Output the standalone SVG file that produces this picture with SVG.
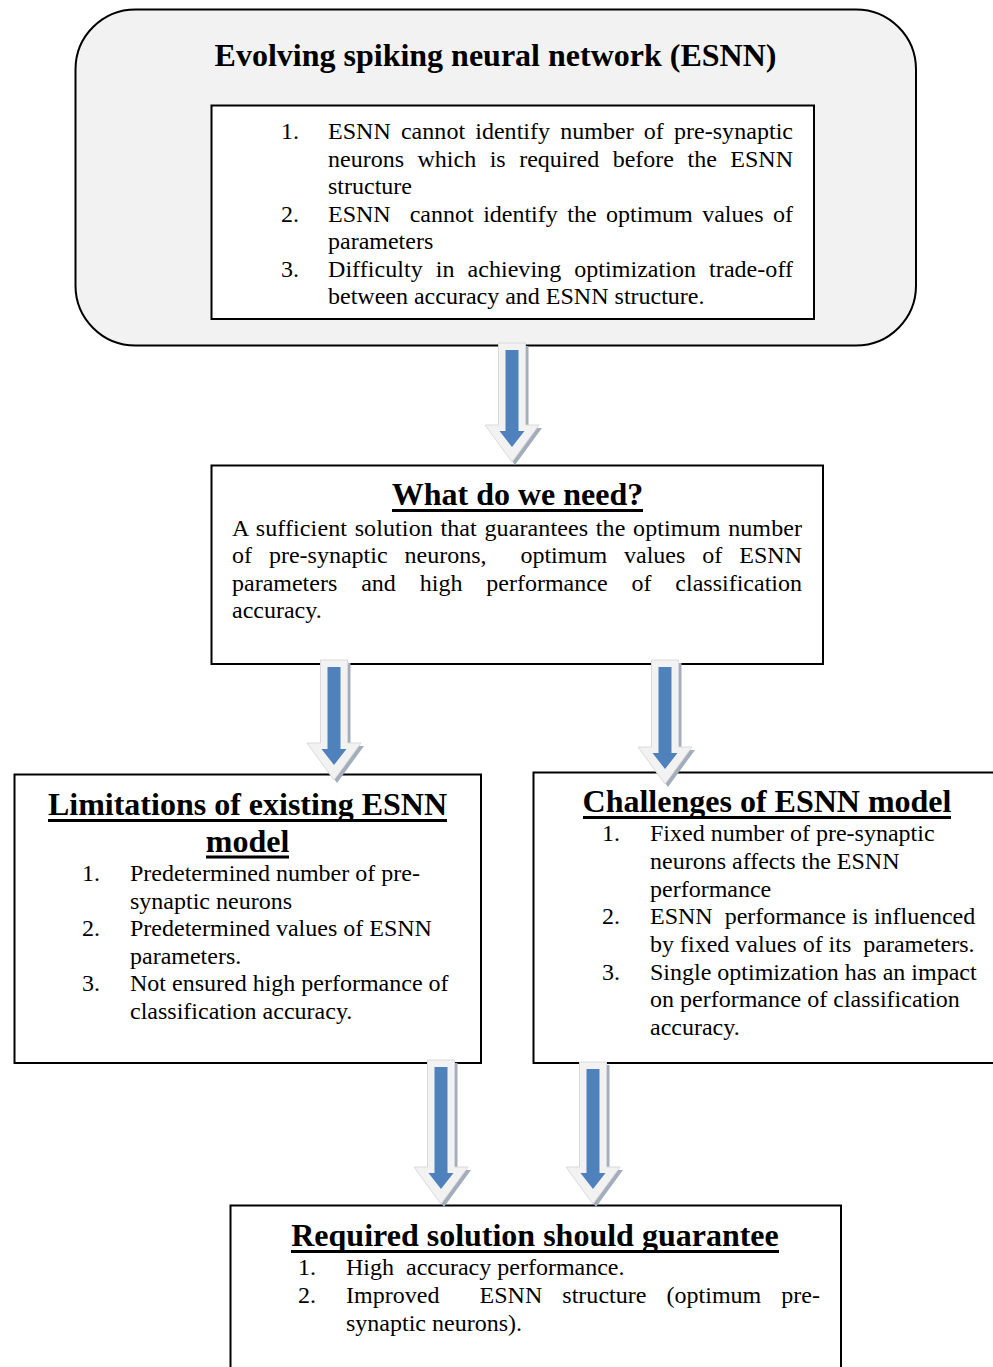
<svg xmlns="http://www.w3.org/2000/svg" xmlns:xlink="http://www.w3.org/1999/xlink" width="993" height="1367" viewBox="0 0 993 1367">
<style>
.box{fill:#ffffff;stroke:#000000;stroke-width:2}
.rbox{fill:#f2f2f2;stroke:#000000;stroke-width:2}
.t{font-family:"Liberation Serif","Times New Roman",serif;font-size:24px;fill:#000000;white-space:pre}
.h{font-family:"Liberation Serif","Times New Roman",serif;font-size:32px;font-weight:bold;fill:#000000;text-anchor:middle}
.ul{fill:#000000}
.ashadow{fill:#a3adbb}
.aouter{fill:#f2f2f2;stroke:#dadada;stroke-width:1}
.ablue{fill:#4f81bd}
</style>
<defs>
<path id="o1" d="M498.5,343 H525.5 V425 H539 L512,462 L485,425 H498.5 Z"/>
<path id="o2" d="M320.5,660 H347.5 V743 H361 L334,780 L307,743 H320.5 Z"/>
<path id="o3" d="M651.5,660 H678.5 V747 H692 L665,784 L638,747 H651.5 Z"/>
<path id="o4" d="M427.5,1060 H454.5 V1167 H468 L441,1204 L414,1167 H427.5 Z"/>
<path id="o5" d="M579.5,1062 H606.5 V1167 H620 L593,1204 L566,1167 H579.5 Z"/>
</defs>

<g id="esnn">
<rect class="rbox" x="75.5" y="9.5" width="840.5" height="336" rx="60" ry="60"/>
<text class="h" x="495.5" y="66">Evolving spiking neural network (ESNN)</text>
<rect class="box" x="211.5" y="105.5" width="602.5" height="213.5"/>
<text class="t" x="281" y="139">1.</text>
<text class="t" x="328" y="139" style="word-spacing:4px" textLength="465" lengthAdjust="spacing">ESNN cannot identify number of pre-synaptic</text>
<text class="t" x="328" y="166.5" style="word-spacing:7.5px" textLength="465" lengthAdjust="spacing">neurons which is required before the ESNN</text>
<text class="t" x="328" y="194">structure</text>
<text class="t" x="281" y="221.5">2.</text>
<text class="t" x="328" y="221.5" style="word-spacing:3.5px" textLength="465" lengthAdjust="spacing">ESNN  cannot identify the optimum values of</text>
<text class="t" x="328" y="249">parameters</text>
<text class="t" x="281" y="276.5">3.</text>
<text class="t" x="328" y="276.5" style="word-spacing:7px" textLength="465" lengthAdjust="spacing">Difficulty in achieving optimization trade-off</text>
<text class="t" x="328" y="304">between accuracy and ESNN structure.</text>
</g>

<g id="need">
<rect class="box" x="211.5" y="465.5" width="611.5" height="198.5"/>
<text class="h" x="517.5" y="505">What do we need?</text>
<rect class="ul" x="392" y="509" width="251" height="3"/>
<text class="t" x="232" y="535.5" style="word-spacing:1.5px" textLength="570" lengthAdjust="spacing">A sufficient solution that guarantees the optimum number</text>
<text class="t" x="232" y="563" style="word-spacing:11px" textLength="570" lengthAdjust="spacing">of pre-synaptic neurons,  optimum values of ESNN</text>
<text class="t" x="232" y="590.5" style="word-spacing:17.9px" textLength="570" lengthAdjust="spacing">parameters and high performance of classification</text>
<text class="t" x="232" y="618">accuracy.</text>
</g>

<g id="limitations">
<rect class="box" x="14.5" y="774.5" width="466.5" height="288.5"/>
<text class="h" x="247.5" y="815">Limitations of existing ESNN</text>
<rect class="ul" x="48" y="819" width="399" height="3"/>
<text class="h" x="247.5" y="851.5">model</text>
<rect class="ul" x="206" y="855.5" width="83" height="3"/>
<text class="t" x="82" y="881">1.</text>
<text class="t" x="130" y="881">Predetermined number of pre-</text>
<text class="t" x="130" y="908.5">synaptic neurons</text>
<text class="t" x="82" y="936">2.</text>
<text class="t" x="130" y="936">Predetermined values of ESNN</text>
<text class="t" x="130" y="963.5">parameters.</text>
<text class="t" x="82" y="991">3.</text>
<text class="t" x="130" y="991">Not ensured high performance of</text>
<text class="t" x="130" y="1018.5">classification accuracy.</text>
</g>

<g id="challenges">
<rect class="box" x="533.5" y="772.5" width="470" height="290.5"/>
<text class="h" x="767" y="812">Challenges of ESNN model</text>
<rect class="ul" x="583" y="816" width="368" height="3"/>
<text class="t" x="602" y="841">1.</text>
<text class="t" x="650" y="841">Fixed number of pre-synaptic</text>
<text class="t" x="650" y="869">neurons affects the ESNN</text>
<text class="t" x="650" y="896.5">performance</text>
<text class="t" x="602" y="924">2.</text>
<text class="t" x="650" y="924">ESNN  performance is influenced</text>
<text class="t" x="650" y="952">by fixed values of its  parameters.</text>
<text class="t" x="602" y="979.5">3.</text>
<text class="t" x="650" y="979.5">Single optimization has an impact</text>
<text class="t" x="650" y="1007">on performance of classification</text>
<text class="t" x="650" y="1035">accuracy.</text>
</g>

<g id="required">
<rect class="box" x="230.5" y="1205.5" width="610.5" height="170"/>
<text class="h" x="535" y="1246">Required solution should guarantee</text>
<rect class="ul" x="291" y="1250" width="488" height="3"/>
<text class="t" x="298" y="1275">1.</text>
<text class="t" x="346" y="1275">High  accuracy performance.</text>
<text class="t" x="298" y="1303">2.</text>
<text class="t" x="346" y="1303" style="word-spacing:14px" textLength="474" lengthAdjust="spacing">Improved  ESNN structure (optimum pre-</text>
<text class="t" x="346" y="1331">synaptic neurons).</text>
</g>

<g id="connectors">
<use xlink:href="#o1" class="ashadow" transform="translate(3,3)"/>
<use xlink:href="#o1" class="aouter"/>
<path class="ablue" d="M505.5,350 H518.5 V431 H524.5 L512,447 L499.5,431 H505.5 Z"/>
<use xlink:href="#o2" class="ashadow" transform="translate(3,3)"/>
<use xlink:href="#o2" class="aouter"/>
<path class="ablue" d="M327.5,667 H340.5 V749 H346.5 L334,765 L321.5,749 H327.5 Z"/>
<use xlink:href="#o3" class="ashadow" transform="translate(3,3)"/>
<use xlink:href="#o3" class="aouter"/>
<path class="ablue" d="M658.5,667 H671.5 V753 H677.5 L665,769 L652.5,753 H658.5 Z"/>
<use xlink:href="#o4" class="ashadow" transform="translate(3,3)"/>
<use xlink:href="#o4" class="aouter"/>
<path class="ablue" d="M434.5,1067 H447.5 V1173 H453.5 L441,1189 L428.5,1173 H434.5 Z"/>
<use xlink:href="#o5" class="ashadow" transform="translate(3,3)"/>
<use xlink:href="#o5" class="aouter"/>
<path class="ablue" d="M586.5,1069 H599.5 V1173 H605.5 L593,1189 L580.5,1173 H586.5 Z"/>
</g>
</svg>
